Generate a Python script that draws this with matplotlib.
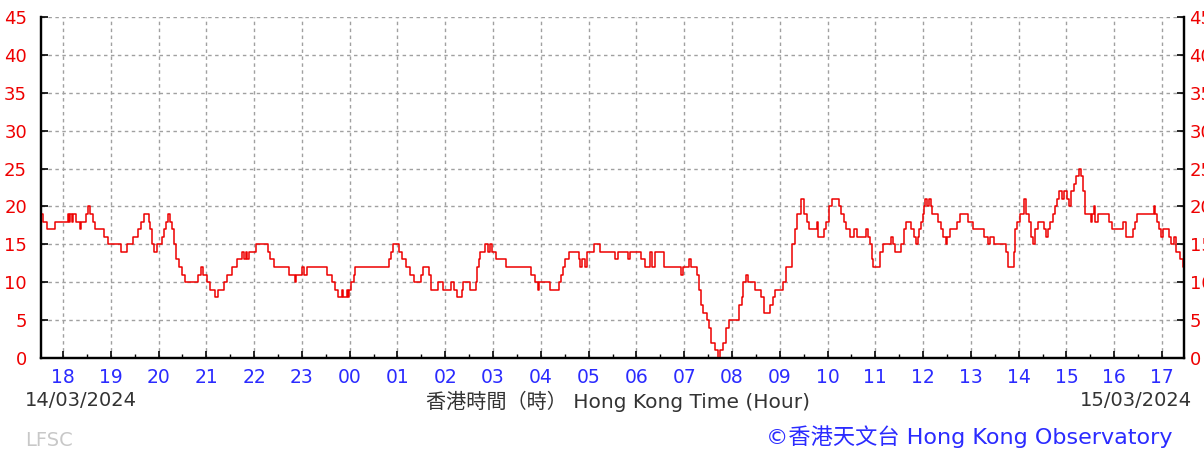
import matplotlib
matplotlib.use("Agg")
import matplotlib.pyplot as plt
from matplotlib.ticker import MultipleLocator

# hours after 18:00 on 14/03/2024, and wind speed (step values)
hours = [
    -0.49, -0.42, -0.33, -0.17, 0.10, 0.13, 0.15, 0.18, 0.21, 0.24, 0.28, 0.35, 0.38, 0.42,
    0.49, 0.52, 0.56, 0.63, 0.66, 0.85, 0.94, 1.22, 1.35, 1.47, 1.58, 1.63, 1.70,
    1.79, 1.83, 1.86, 1.90, 1.96, 2.07, 2.11, 2.15, 2.19, 2.24, 2.29, 2.33, 2.36,
    2.42, 2.49, 2.56, 2.82, 2.88, 2.94, 3.01, 3.07, 3.19, 3.25, 3.37, 3.44, 3.53,
    3.65, 3.75, 3.79, 3.82, 3.85, 3.89, 4.03, 4.29, 4.34, 4.41, 4.72, 4.85, 4.88,
    5.01, 5.04, 5.10, 5.53,
    5.62, 5.70, 5.76, 5.83, 5.85, 5.94, 5.96, 5.99, 6.02, 6.08, 6.12, 6.83, 6.87,
    6.91, 7.04, 7.10, 7.17, 7.27, 7.35, 7.50, 7.54, 7.66, 7.70, 7.85, 7.96, 8.13,
    8.18, 8.25, 8.34, 8.37, 8.52, 8.64, 8.66, 8.70, 8.73, 8.83, 8.89, 8.93, 8.97,
    9.06, 9.27, 9.80, 9.87, 9.94, 9.97, 10.19, 10.39, 10.43, 10.46, 10.51, 10.58,
    10.79, 10.82, 10.87, 10.92, 10.96, 11.12, 11.24, 11.56, 11.62,
    11.83, 11.87, 12.10, 12.17, 12.28, 12.32, 12.38, 12.58, 12.94, 12.98, 13.10,
    13.14, 13.27, 13.31, 13.36, 13.39, 13.48, 13.52, 13.57, 13.64, 13.71, 13.74,
    13.81, 13.87, 13.94, 14.14, 14.20, 14.23, 14.29, 14.33, 14.49, 14.61, 14.68,
    14.80, 14.86, 14.91, 15.07, 15.14, 15.26, 15.31, 15.37, 15.44, 15.51, 15.57,
    15.62, 15.78, 15.81, 15.92, 15.96, 16.03, 16.10, 16.24, 16.29, 16.34, 16.39,
    16.47, 16.56, 16.61, 16.81, 16.84, 16.89, 16.93, 16.96, 17.09, 17.16, 17.33,
    17.37, 17.42, 17.53, 17.59, 17.64,
    17.67, 17.74, 17.80, 17.85, 17.89, 17.92, 17.96, 17.99, 18.01, 18.05, 18.08,
    18.12, 18.17, 18.19, 18.32, 18.37, 18.42, 18.47, 18.50, 18.56, 18.71, 18.77,
    18.94, 19.05, 19.27, 19.36, 19.39, 19.49, 19.74, 19.78, 19.90, 19.92, 19.97,
    20.02, 20.12, 20.16, 20.21, 20.26, 20.30, 20.34, 20.41, 20.53, 20.57, 20.61,
    20.65, 20.71, 20.75, 20.80, 20.85, 20.91, 20.94, 21.01, 21.06, 21.10, 21.15,
    21.21, 21.26, 21.31, 21.34, 21.38, 21.51, 21.54, 21.57, 21.60, 21.67, 21.89,
    21.95, 22.18, 22.24, 22.39, 22.43, 22.48, 22.83, 22.86, 22.90, 22.94, 22.98,
    23.03, 23.14, 23.19, 23.26, 23.29, 23.38, 23.44, 23.47,
]
speed = [
    19, 18, 17, 18, 19, 18, 19, 18, 19, 19, 18, 17, 18, 18,
    19, 20, 19, 18, 17, 16, 15, 14, 15, 16, 17, 18, 19,
    18, 17, 15, 14, 15, 16, 17, 18, 19, 18, 17, 15, 13,
    12, 11, 10, 11, 12, 11, 10, 9, 8, 9, 10, 11, 12,
    13, 14, 13, 14, 13, 14, 15, 14, 13, 12, 11, 10, 11,
    12, 11, 12, 11,
    10, 9, 8, 9, 8, 9, 8, 9, 10, 11, 12, 13, 14,
    15, 14, 13, 12, 11, 10, 11, 12, 11, 9, 10, 9, 10,
    9, 8, 9, 10, 9, 10, 12, 13, 14, 15, 14, 15, 14,
    13, 12, 11, 10, 9, 10, 9, 10, 11, 12, 13, 14,
    13, 12, 13, 12, 14, 15, 14, 13, 14,
    13, 14, 13, 12, 14, 12, 14, 12, 11, 12, 13,
    12, 11, 9, 7, 6, 5, 4, 2, 1, 0, 1,
    2, 4, 5, 7, 8, 10, 11, 10, 9, 8, 6,
    7, 8, 9, 10, 12, 15, 17, 19, 21, 19, 18,
    17, 18, 16, 17, 18, 20, 21, 20, 19, 18, 17,
    16, 17, 16, 17, 16, 15, 13, 12, 14, 15, 16,
    15, 14, 15, 17, 18,
    18, 17, 16, 15, 16, 17, 18, 19, 20, 21, 20,
    21, 20, 19, 18, 17, 16, 15, 16, 17, 18, 19,
    18, 17, 16, 15, 16, 15, 14, 12, 14, 17, 18,
    19, 21, 19, 18, 16, 15, 17, 18, 17, 16, 17,
    18, 19, 20, 21, 22, 21, 22, 21, 20, 22, 23,
    24, 25, 24, 22, 19, 18, 19, 20, 18, 19, 18,
    17, 18, 16, 17, 18, 19, 20, 19, 18, 17, 16,
    17, 16, 15, 16, 14, 13, 12, 12,
]
hour_labels = ["18", "19", "20", "21", "22", "23", "00", "01", "02", "03", "04", "05",
               "06", "07", "08", "09", "10", "11", "12", "13", "14", "15", "16", "17"]
y_ticks = [0, 5, 10, 15, 20, 25, 30, 35, 40, 45]

RED = "#ee0000"
BLUE = "#2b2bff"
plt.rcParams["font.family"] = ["DejaVu Sans", "Noto Sans CJK TC"]

fig = plt.figure(figsize=(12.04, 4.55), dpi=100)
ax = fig.add_axes([41 / 1204, 97 / 455, 1143 / 1204, 341 / 455])

ax.step(hours, speed, where="post", color=RED, lw=1.1, zorder=3)

ax.set_xlim(-0.46, 23.46)
ax.set_ylim(0, 45)
ax.set_xticks(range(len(hour_labels)))
ax.set_xticklabels(hour_labels)
ax.xaxis.set_minor_locator(MultipleLocator(0.5))
ax.set_yticks(y_ticks)

ax.grid(True, which="major", color="#a0a0a0", linestyle=(0, (2.5, 2.5)), lw=1.0)
ax.tick_params(axis="x", which="major", direction="in", length=5, width=1.2,
               labelsize=13.5, labelcolor=BLUE, pad=7)
ax.tick_params(axis="x", which="minor", direction="in", length=3, width=1.0)
ax.tick_params(axis="y", which="major", direction="in", length=5, width=1.2,
               labelsize=13, labelcolor=RED, pad=10)

# right-hand copy of the y scale, sitting closer to its spine
ax2 = ax.twinx()
ax2.set_ylim(ax.get_ylim())
ax2.set_yticks(y_ticks)
ax2.tick_params(axis="y", which="major", direction="in", length=5, width=1.2,
                labelsize=13, labelcolor=RED, pad=4)

for a in (ax, ax2):
    a.spines["top"].set_visible(False)
    for s in ["left", "right", "bottom"]:
        a.spines[s].set_linewidth(1.6)
        a.spines[s].set_color("black")

fig.text(25 / 1204, 1 - 401 / 455, "14/03/2024", fontsize=14, color="#333333",
         ha="left", va="center")
fig.text(1192 / 1204, 1 - 401 / 455, "15/03/2024", fontsize=14, color="#333333",
         ha="right", va="center")
fig.text(618 / 1204, 1 - 401 / 455, "香港時間（時） Hong Kong Time (Hour)", fontsize=14.5,
         color="#333333", ha="center", va="center",
         family=["DejaVu Sans", "Noto Sans CJK TC"])
fig.text(25 / 1204, 1 - 441 / 455, "LFSC", fontsize=14, color="#c8c8c8",
         ha="left", va="center")
fig.text(1172 / 1204, 1 - 437 / 455, "©香港天文台 Hong Kong Observatory", fontsize=16,
         color=BLUE, ha="right", va="center",
         family=["DejaVu Sans", "Noto Sans CJK TC"])

fig.savefig("out.png", dpi=100)
